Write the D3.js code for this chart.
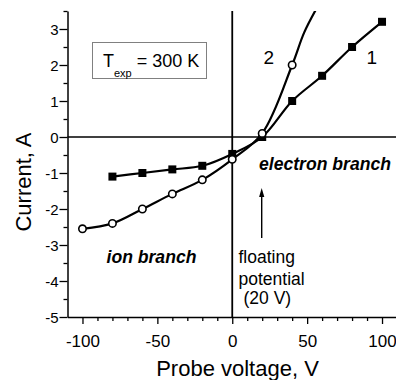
<!DOCTYPE html>
<html>
<head>
<meta charset="utf-8">
<script src="https://cdn.jsdelivr.net/npm/d3@7"></script>
<style>
  html, body { margin: 0; padding: 0; background: #fff; }
  svg { display: block; font-family: "Liberation Sans", Arial, sans-serif; }
</style>
</head>
<body>
<svg id="chart" width="396" height="380"></svg>
<script>
// Probe I–V characteristics: curve 1 (squares) and curve 2 (open circles)
const voltage1 = [-80, -60, -40, -20, 0, 20, 40, 60, 80, 100];
const current1 = [-1.1, -1.0, -0.9, -0.8, -0.47, 0, 1.0, 1.7, 2.5, 3.2];

const voltage2 = [-100, -80, -60, -40, -20, 0, 20, 40];
const current2 = [-2.55, -2.4, -2.0, -1.58, -1.19, -0.62, 0.1, 2.0];
// continuation of curve 2 above the last measured point (runs off the top)
const tailVoltage2 = [48, 56];
const tailCurrent2 = [2.9, 3.55];

const xMajorTicks = [-100, -50, 0, 50, 100];
const yMajorTicks = [-5, -4, -3, -2, -1, 0, 1, 2, 3];
const floatingPotential = 20;

const svg = d3.select("#chart");
const plotLeft = 67.5, plotRight = 397, plotTop = 11, plotBottom = 317;

const x = d3.scaleLinear().domain([-110, 110]).range([plotLeft, plotRight]);
const y = d3.scaleLinear().domain([-5, 3.5]).range([plotBottom, plotTop]);

// clip for the curves
svg.append("defs").append("clipPath").attr("id", "plot-clip")
  .append("rect").attr("x", plotLeft).attr("y", plotTop)
  .attr("width", plotRight - plotLeft).attr("height", plotBottom - plotTop);

// minor ticks
const xMinor = d3.range(-100, 111, 10).filter(v => !xMajorTicks.includes(v));
const yMinor = d3.range(-4.5, 3.51, 1);

svg.append("g").attr("transform", `translate(0,${plotBottom})`)
  .call(d3.axisBottom(x).tickValues(xMinor).tickSize(4).tickSizeOuter(0).tickFormat(""))
  .call(g => g.select(".domain").remove())
  .selectAll("line").attr("stroke", "#000").attr("stroke-width", 1.3);

svg.append("g").attr("transform", `translate(${plotLeft},0)`)
  .call(d3.axisLeft(y).tickValues(yMinor).tickSize(4).tickSizeOuter(0).tickFormat(""))
  .call(g => g.select(".domain").remove())
  .selectAll("line").attr("stroke", "#000").attr("stroke-width", 1.3);

// major axes
const xAxis = svg.append("g").attr("transform", `translate(0,${plotBottom})`)
  .call(d3.axisBottom(x).tickValues(xMajorTicks).tickSize(7).tickSizeOuter(0).tickFormat(d => String(d)));
xAxis.select(".domain").attr("stroke", "#000").attr("stroke-width", 1.5);
xAxis.selectAll(".tick line").attr("stroke", "#000").attr("stroke-width", 1.3);
xAxis.selectAll(".tick text")
  .attr("y", 29.7).attr("dy", null)
  .attr("font-size", 17).attr("fill", "#000")
  .attr("font-family", "'Liberation Sans', Arial, sans-serif");

const yAxis = svg.append("g").attr("transform", `translate(${plotLeft},0)`)
  .call(d3.axisLeft(y).tickValues(yMajorTicks).tickSize(8).tickSizeOuter(0).tickFormat(d => String(d)));
yAxis.select(".domain").attr("stroke", "#000").attr("stroke-width", 1.5);
yAxis.selectAll(".tick line").attr("stroke", "#000").attr("stroke-width", 1.3);
yAxis.selectAll(".tick text")
  .attr("x", -9).attr("dy", "0.35em")
  .attr("font-size", 15).attr("fill", "#000")
  .attr("font-family", "'Liberation Sans', Arial, sans-serif");

// zero lines
svg.append("line")
  .attr("x1", plotLeft).attr("x2", plotRight).attr("y1", y(0)).attr("y2", y(0))
  .attr("stroke", "#000").attr("stroke-width", 1.6);
svg.append("line")
  .attr("x1", x(0)).attr("x2", x(0)).attr("y1", plotTop).attr("y2", plotBottom)
  .attr("stroke", "#000").attr("stroke-width", 1.8);

// axis titles
svg.append("text")
  .attr("x", 237.5).attr("y", 376)
  .attr("text-anchor", "middle").attr("font-size", 22)
  .text("Probe voltage, V");
svg.append("text")
  .attr("transform", `translate(30.5,182) rotate(-90)`)
  .attr("text-anchor", "middle").attr("font-size", 22)
  .text("Current, A");

// curves
const line = d3.line().x(d => x(d[0])).y(d => y(d[1])).curve(d3.curveCatmullRom.alpha(0.5));
const pts1 = voltage1.map((v, i) => [v, current1[i]]);
const pts2 = voltage2.map((v, i) => [v, current2[i]]);
const pts2Line = pts2.concat(tailVoltage2.map((v, i) => [v, tailCurrent2[i]]));

const curves = svg.append("g").attr("clip-path", "url(#plot-clip)");
curves.append("path").attr("d", line(pts1))
  .attr("fill", "none").attr("stroke", "#000").attr("stroke-width", 2.2);
curves.append("path").attr("d", line(pts2Line))
  .attr("fill", "none").attr("stroke", "#000").attr("stroke-width", 2.2);

// markers
svg.append("g").selectAll("rect").data(pts1).join("rect")
  .attr("x", d => x(d[0]) - 4).attr("y", d => y(d[1]) - 4)
  .attr("width", 8).attr("height", 8).attr("fill", "#000");
svg.append("g").selectAll("circle").data(pts2).join("circle")
  .attr("cx", d => x(d[0])).attr("cy", d => y(d[1])).attr("r", 3.7)
  .attr("fill", "#fff").attr("stroke", "#000").attr("stroke-width", 1.6);

// curve labels
svg.append("text").attr("x", 263.5).attr("y", 63.5).attr("font-size", 19).text("2");
svg.append("text").attr("x", 366.5).attr("y", 63.5).attr("font-size", 19).text("1");

// temperature box
svg.append("rect").attr("x", 92.5).attr("y", 42.5).attr("width", 114).attr("height", 36)
  .attr("fill", "#fff").attr("stroke", "#808080").attr("stroke-width", 1);
const tLabel = svg.append("text").attr("x", 103).attr("y", 66.5).attr("font-size", 18);
tLabel.append("tspan").text("T");
tLabel.append("tspan").attr("font-size", 11).attr("dy", 10).text("exp");
tLabel.append("tspan").attr("dy", -10).text("\u00a0= 300 K");

// branch annotations
svg.append("text").attr("x", 259).attr("y", 169.5)
  .attr("font-size", 17.6).attr("font-weight", "bold").attr("font-style", "italic")
  .text("electron branch");
svg.append("text").attr("x", 106.5).attr("y", 263.3)
  .attr("font-size", 17.6).attr("font-weight", "bold").attr("font-style", "italic")
  .text("ion branch");

// floating potential marker
const ax = x(floatingPotential) - 0.5;
svg.append("line").attr("x1", ax).attr("x2", ax).attr("y1", 238).attr("y2", 194)
  .attr("stroke", "#000").attr("stroke-width", 1.4);
svg.append("path")
  .attr("d", `M${ax},188 L${ax - 2.6},197 L${ax + 2.6},197 Z`).attr("fill", "#000");

const fp = svg.append("text").attr("font-size", 17.5);
fp.append("tspan").attr("x", 238.5).attr("y", 263.3).text("floating");
fp.append("tspan").attr("x", 238.5).attr("y", 284.5).text("potential");
fp.append("tspan").attr("x", 243.5).attr("y", 304).text("(20 V)");
</script>
</body>
</html>
